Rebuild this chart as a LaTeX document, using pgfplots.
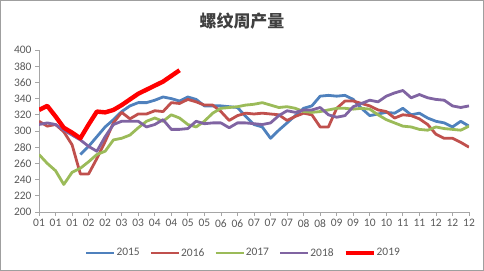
\documentclass[border=0pt]{standalone}
\usepackage{fontspec}
\setmainfont{Carlito}
\newfontfamily\cjk{Noto Sans CJK SC}
\usepackage{pgfplots}
\pgfplotsset{compat=1.18}
\definecolor{c15}{HTML}{4F81BD}
\definecolor{c16}{HTML}{C0504D}
\definecolor{c17}{HTML}{9BBB59}
\definecolor{c18}{HTML}{8064A2}
\definecolor{c19}{HTML}{FF0000}
\definecolor{txt}{HTML}{595959}
\definecolor{axl}{HTML}{A6A6A6}
\begin{document}
\begin{tikzpicture}
\useasboundingbox (0,0) rectangle (484bp,271bp);
\draw[draw=gray!75, line width=1bp] (0.5bp,0.5bp) rectangle (483.5bp,270.5bp);
\node[font=\cjk\bfseries\fontsize{17}{17}\selectfont, text=black!75] at (242bp,250bp) {螺纹周产量};
\begin{axis}[
  at={(39bp,59bp)}, anchor=south west,
  scale only axis, width=430bp, height=162bp,
  xmin=1, xmax=53, ymin=200, ymax=400,
  ytick={200,220,...,400},
  xtick={1,3,...,53},
  xticklabels={01,01,01,02,02,03,03,04,04,05,05,06,06,07,07,07,08,08,09,09,10,10,11,11,12,12,12},
  axis x line*=bottom, axis y line*=left,
  axis line style={draw=axl, line width=0.8bp, -},
  tick style={draw=axl, line width=0.8bp},
  tick align=outside, major tick length=4bp,
  /pgf/number format/assume math mode=true,
  ticklabel style={font=\fontsize{11.5}{12}\selectfont, text=txt},
  line join=round,
  legend columns=5,
  legend image code/.code={\draw[#1] (0bp,0bp) -- (28bp,0bp);},
  legend style={draw=none, fill=none, at={(0.474,-0.253)}, anchor=center,
    font=\fontsize{11.5}{12}\selectfont, text=txt,
    nodes={inner sep=0.8bp},
    /tikz/every even column/.append style={column sep=9bp}},
]
\addplot[c15, line width=2.8bp] coordinates {
(6,271)(7,281)(8,293)(9,305)(10,314)(11,324)(12,331)(13,335)(14,335)(15,338)
(16,342)(17,340)(18,337)(19,342)(20,339)(21,331)(22,331)(23,331)(24,330)(25,329)
(26,318)(27,308)(28,305)(29,291)(30,301)(31,310)(32,319)(33,328)(34,331)(35,343)
(36,344)(37,343)(38,344)(39,339)(40,328)(41,319)(42,321)(43,323)(44,322)(45,328)
(46,320)(47,322)(48,316)(49,312)(50,310)(51,305)(52,312)(53,306)};
\addlegendentry{2015}
\addplot[c16, line width=2.8bp] coordinates {
(1,312)(2,306)(3,308)(4,299)(5,283)(6,247)(7,247)(8,266)(9,287)(10,310)
(11,323)(12,315)(13,321)(14,321)(15,325)(16,324)(17,335)(18,334)(19,339)(20,336)
(21,332)(22,332)(23,324)(24,313)(25,319)(26,322)(27,321)(28,322)(29,321)(30,320)
(31,313)(32,318)(33,322)(34,320)(35,305)(36,305)(37,328)(38,337)(39,337)(40,334)
(41,331)(42,326)(43,324)(44,316)(45,320)(46,319)(47,315)(48,308)(49,296)(50,291)
(51,291)(52,286)(53,280)};
\addlegendentry{2016}
\addplot[c17, line width=2.8bp] coordinates {
(1,271)(2,260)(3,251)(4,234)(5,249)(6,254)(7,262)(8,271)(9,275)(10,289)
(11,291)(12,295)(13,304)(14,312)(15,316)(16,312)(17,320)(18,316)(19,308)(20,305)
(21,312)(22,322)(23,328)(24,329)(25,330)(26,332)(27,333)(28,335)(29,332)(30,329)
(31,330)(32,328)(33,324)(34,323)(35,324)(36,326)(37,328)(38,328)(39,327)(40,328)
(41,327)(42,320)(43,314)(44,310)(45,306)(46,305)(47,302)(48,301)(49,305)(50,303)
(51,302)(52,301)(53,306)};
\addlegendentry{2017}
\addplot[c18, line width=2.8bp] coordinates {
(1,308)(2,310)(3,308)(4,301)(5,295)(6,289)(7,281)(8,275)(9,293)(10,308)
(11,312)(12,312)(13,312)(14,305)(15,308)(16,314)(17,302)(18,302)(19,303)(20,312)
(21,309)(22,310)(23,310)(24,304)(25,310)(26,310)(27,309)(28,308)(29,310)(30,319)
(31,325)(32,323)(33,326)(34,326)(35,329)(36,320)(37,317)(38,319)(39,330)(40,334)
(41,338)(42,336)(43,343)(44,347)(45,350)(46,341)(47,345)(48,341)(49,339)(50,338)
(51,331)(52,329)(53,331)};
\addlegendentry{2018}
\addplot[c19, line width=4.4bp] coordinates {
(1,326)(2,331)(3,318)(4,304)(5,298)(6,291)(7,308)(8,324)(9,323)(10,326)
(11,332)(12,339)(13,346)(14,351)(15,356)(16,361)(17,368)(18,375)};
\addlegendentry{2019}
\end{axis}
\end{tikzpicture}
\end{document}
